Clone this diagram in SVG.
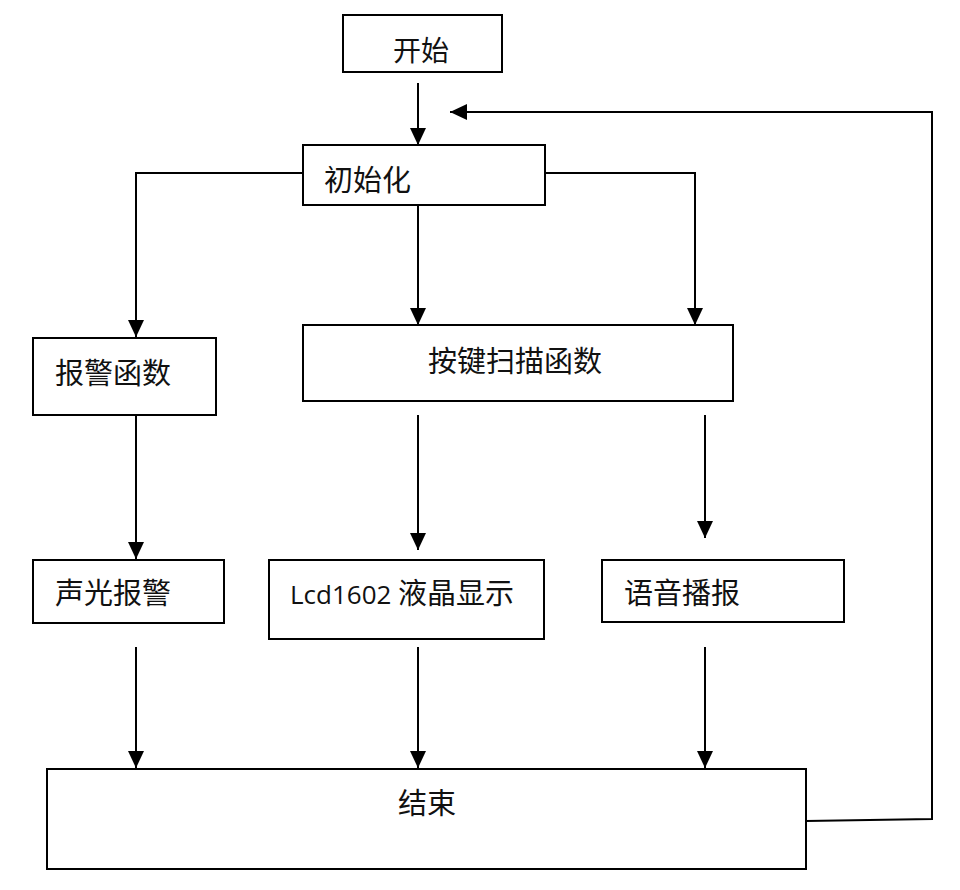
<svg xmlns="http://www.w3.org/2000/svg" width="960" height="890" viewBox="0 0 960 890">
<style>
.box{fill:#fff;stroke:#000;stroke-width:2}
.lbl{font-family:"Noto Sans CJK SC","Noto Sans",sans-serif;font-size:29px;fill:#111}
.lat{font-family:"Open Sans","Noto Sans",sans-serif;font-size:26px}
.con{fill:none;stroke:#000;stroke-width:2}
</style>
<defs>
<marker id="ah" markerUnits="userSpaceOnUse" markerWidth="18" markerHeight="18" viewBox="0 0 18 18" refX="17" refY="9" orient="auto">
<path d="M0,1 L17,9 L0,17 Z" fill="#000"/>
</marker>
</defs>
<rect width="960" height="890" fill="#fff"/>
<g id="connectors">
<line class="con" x1="418" y1="83" x2="418" y2="145" marker-end="url(#ah)"/>
<polyline class="con" points="303,173 136,173 136,337" marker-end="url(#ah)"/>
<line class="con" x1="418" y1="205" x2="418" y2="325" marker-end="url(#ah)"/>
<polyline class="con" points="545,173 695,173 695,325" marker-end="url(#ah)"/>
<line class="con" x1="136" y1="415" x2="136" y2="559" marker-end="url(#ah)"/>
<line class="con" x1="418" y1="415" x2="418" y2="550" marker-end="url(#ah)"/>
<line class="con" x1="705" y1="415" x2="705" y2="538" marker-end="url(#ah)"/>
<line class="con" x1="136" y1="647" x2="136" y2="768" marker-end="url(#ah)"/>
<line class="con" x1="418" y1="647" x2="418" y2="768" marker-end="url(#ah)"/>
<line class="con" x1="705" y1="647" x2="705" y2="768" marker-end="url(#ah)"/>
<polyline class="con" points="806,821 932,819 932,112 450,112" marker-end="url(#ah)"/>
</g>
<g id="start"><rect class="box" x="343" y="15" width="159" height="57"/><text class="lbl" x="393" y="61" style="font-size:28px">开始</text></g>
<g id="init"><rect class="box" x="303" y="145" width="242" height="60"/><text class="lbl" x="324" y="191">初始化</text></g>
<g id="alarm-func"><rect class="box" x="33" y="338" width="183" height="77"/><text class="lbl" x="55" y="384">报警函数</text></g>
<g id="key-scan"><rect class="box" x="303" y="325" width="430" height="76"/><text class="lbl" x="428" y="372">按键扫描函数</text></g>
<g id="sound-light"><rect class="box" x="33" y="560" width="191" height="63"/><text class="lbl" x="55" y="604">声光报警</text></g>
<g id="lcd"><rect class="box" x="269" y="560" width="275" height="79"/><text class="lbl" x="290" y="604"><tspan class="lat">Lcd1602</tspan> 液晶显示</text></g>
<g id="voice"><rect class="box" x="602" y="560" width="242" height="62"/><text class="lbl" x="624" y="604">语音播报</text></g>
<g id="end"><rect class="box" x="47" y="769" width="759" height="100"/><text class="lbl" x="398" y="814">结束</text></g>
</svg>
